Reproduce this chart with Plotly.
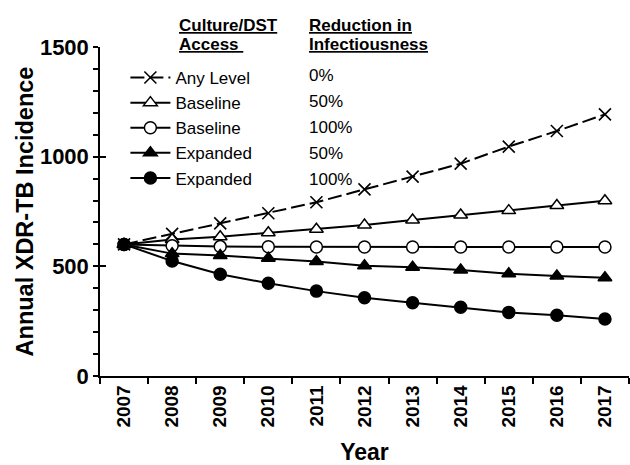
import plotly.graph_objects as go

years = ["2007", "2008", "2009", "2010", "2011", "2012", "2013", "2014", "2015", "2016", "2017"]

any_level_0 = [600, 648, 696, 742, 792, 851, 909, 968, 1046, 1117, 1193]
baseline_50 = [600, 622, 635, 653, 669, 688, 711, 734, 754, 777, 799]
baseline_100 = [600, 594, 590, 589, 588, 588, 588, 588, 588, 588, 588]
expanded_50 = [600, 558, 549, 537, 522, 503, 496, 483, 466, 456, 448]
expanded_100 = [600, 524, 464, 423, 387, 357, 334, 313, 290, 277, 260]

access_labels = ["Any Level", "Baseline", "Baseline", "Expanded", "Expanded"]
reduction_labels = ["0%", "50%", "100%", "50%", "100%"]

FONT = "Arial, Liberation Sans, sans-serif"

series = [
    (any_level_0, dict(symbol="x-thin", size=12, color="black", line=dict(width=1.6, color="black")), "14px,5px"),
    (baseline_50, dict(symbol="triangle-up", size=12, color="white", line=dict(width=1.5, color="black")), "solid"),
    (baseline_100, dict(symbol="circle", size=12, color="white", line=dict(width=1.5, color="black")), "solid"),
    (expanded_50, dict(symbol="triangle-up", size=12, color="black", line=dict(width=1.5, color="black")), "solid"),
    (expanded_100, dict(symbol="circle", size=12, color="black", line=dict(width=1.5, color="black")), "solid"),
]

fig = go.Figure()
for i, (vals, mk, dash) in enumerate(series):
    fig.add_trace(go.Scatter(
        x=years, y=vals, mode="lines+markers", name=access_labels[i],
        legendgroup=f"g{i}",
        line=dict(color="black", width=2, dash=dash),
        marker=mk,
    ))

# secondary overlay axis for inward major ticks (crossing tick style)
fig.add_trace(go.Scatter(x=[years[0]], y=[None], yaxis="y2", showlegend=False, hoverinfo="skip"))

row0 = 0.912
row_step = 0.0785
annotations = []
for i, lab in enumerate(reduction_labels):
    annotations.append(dict(
        x=0.391, y=row0 - i * row_step, xref="paper", yref="paper",
        text=lab, showarrow=False, xanchor="left", yanchor="middle",
        font=dict(family=FONT, size=17, color="black"),
    ))
headers = [("Culture/DST", 0.1456, 1.064), ("Access\u00a0", 0.1456, 1.008),
           ("Reduction in", 0.391, 1.064), ("Infectiousness", 0.391, 1.008)]
for txt, hx, hy in headers:
    annotations.append(dict(
        x=hx, y=hy, xref="paper", yref="paper", text=f"<b>{txt}</b>",
        showarrow=False, xanchor="left", yanchor="middle",
        font=dict(family=FONT, size=17, color="black", lineposition="under"),
    ))

fig.update_layout(
    width=630, height=465,
    margin=dict(l=100, r=1, t=47, b=89, autoexpand=False),
    plot_bgcolor="white", paper_bgcolor="white",
    font=dict(family=FONT, color="black"),
    showlegend=True,
    legend=dict(
        x=0.048, y=0.9605, xanchor="left", yanchor="top",
        bgcolor="rgba(0,0,0,0)", font=dict(family=FONT, size=17, color="black"),
        traceorder="grouped", tracegroupgap=0, itemwidth=40,
    ),
    annotations=annotations,
    xaxis=dict(
        type="category", range=[-0.5, 10.5], tickson="boundaries",
        ticks="outside", ticklen=6, tickwidth=1.5, tickcolor="black",
        showline=True, linecolor="black", linewidth=1.5, automargin=False,
        tickangle=-90, tickfont=dict(family=FONT, size=19, color="black", weight="bold"),
        showgrid=False, zeroline=False,
        title=dict(text="<b>Year</b>", font=dict(family=FONT, size=23, color="black"), standoff=18),
    ),
    yaxis=dict(
        range=[0, 1500], dtick=500, tick0=0, automargin=False,
        ticks="outside", ticklen=5, tickwidth=1.5, tickcolor="black",
        minor=dict(dtick=100, ticks="outside", ticklen=5, tickwidth=1.5, tickcolor="black"),
        showline=True, linecolor="black", linewidth=1.5,
        tickfont=dict(family=FONT, size=22, color="black", weight="bold"),
        showgrid=False, zeroline=False,
        title=dict(text="<b>Annual XDR-TB Incidence</b>", font=dict(family=FONT, size=23.5, color="black"), standoff=0),
    ),
    yaxis2=dict(
        overlaying="y", side="left", range=[0, 1500], dtick=500, tick0=0, automargin=False,
        ticks="inside", ticklen=6, tickwidth=1.5, tickcolor="black",
        showticklabels=False, showline=False, showgrid=False, zeroline=False,
    ),
)

fig.write_html(
    "out.html",
    config={"displayModeBar": False},
    post_script="document.body.style.margin='0px';document.body.style.padding='0px';",
)
